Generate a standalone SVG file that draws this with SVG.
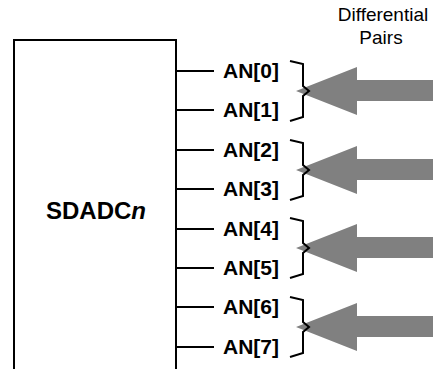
<svg xmlns="http://www.w3.org/2000/svg" width="433" height="369" viewBox="0 0 433 369">
<style>
.ln{stroke:#000;stroke-width:2;fill:none}
.lbl{font-family:"Liberation Sans",Arial,sans-serif;font-weight:bold;font-size:21px;fill:#000}
.cap{font-family:"Liberation Sans",Arial,sans-serif;font-size:19px;fill:#000}
.br{stroke:#000;stroke-width:2;fill:none;stroke-linejoin:miter}
.arr{fill:#808080}
</style>
<rect width="433" height="369" fill="#fff"/>
<g id="sdadc">
<path class="ln" d="M14,369 V40 H176 V369"/>
<text x="96" y="219" text-anchor="middle" font-family="Liberation Sans, Arial, sans-serif" font-weight="bold" font-size="24">SDADC<tspan font-style="italic">n</tspan></text>
</g>
<g id="caption">
<text class="cap" x="383" y="21" text-anchor="middle">Differential</text>
<text class="cap" x="381" y="44" text-anchor="middle">Pairs</text>
</g>
<g id="connectors">
<line class="ln" x1="176" y1="71" x2="214" y2="71"/>
<line class="ln" x1="176" y1="110" x2="214" y2="110"/>
<line class="ln" x1="176" y1="150" x2="214" y2="150"/>
<line class="ln" x1="176" y1="189" x2="214" y2="189"/>
<line class="ln" x1="176" y1="229" x2="214" y2="229"/>
<line class="ln" x1="176" y1="268" x2="214" y2="268"/>
<line class="ln" x1="176" y1="307" x2="214" y2="307"/>
<line class="ln" x1="176" y1="347" x2="214" y2="347"/>
</g>
<g id="labels">
<text class="lbl" x="223" y="78">AN[0]</text>
<text class="lbl" x="223" y="117">AN[1]</text>
<text class="lbl" x="223" y="157">AN[2]</text>
<text class="lbl" x="223" y="196">AN[3]</text>
<text class="lbl" x="223" y="236">AN[4]</text>
<text class="lbl" x="223" y="275">AN[5]</text>
<text class="lbl" x="223" y="314">AN[6]</text>
<text class="lbl" x="223" y="354">AN[7]</text>
</g>
<g id="pair0">
<path class="arr" d="M296,91 L357,67 L357,80 L433,80 L433,101 L357,101 L357,115 Z"/>
<path class="br" d="M290,61 L303,64 L303,86 L309,91 L303,96 L303,117 L290,121"/>
</g>
<g id="pair1">
<path class="arr" d="M296,170 L357,146 L357,159 L433,159 L433,180 L357,180 L357,194 Z"/>
<path class="br" d="M290,140 L303,143 L303,165 L309,170 L303,175 L303,196 L290,200"/>
</g>
<g id="pair2">
<path class="arr" d="M296,248 L357,224 L357,237 L433,237 L433,258 L357,258 L357,272 Z"/>
<path class="br" d="M290,218 L303,221 L303,243 L309,248 L303,253 L303,274 L290,278"/>
</g>
<g id="pair3">
<path class="arr" d="M296,327 L357,303 L357,316 L433,316 L433,337 L357,337 L357,351 Z"/>
<path class="br" d="M290,297 L303,300 L303,322 L309,327 L303,332 L303,353 L290,357"/>
</g>
</svg>
